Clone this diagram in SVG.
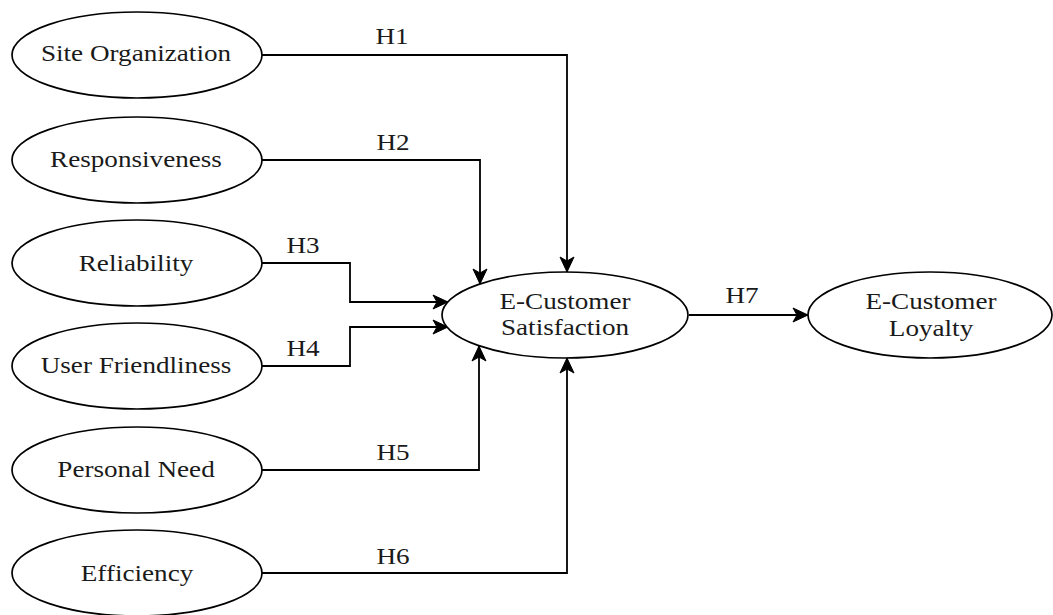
<svg xmlns="http://www.w3.org/2000/svg" width="1053" height="615" viewBox="0 0 1053 615">
  <style>
    .node ellipse { fill: #ffffff; stroke: #000000; stroke-width: 1.7; }
    text { font-family: 'Liberation Serif', 'Times New Roman', serif; font-size: 23px; fill: #1a1a1a; text-anchor: middle; }
    .edge { fill: none; stroke: #000000; stroke-width: 1.8; marker-end: url(#arrow); }
  </style>
  <defs>
    <marker id="arrow" markerUnits="userSpaceOnUse" markerWidth="18" markerHeight="16" viewBox="0 0 18 16" refX="16" refY="8" orient="auto">
      <path d="M16,8 L1,1 L5,8 L1,15 Z" fill="#000000" stroke="#000000" stroke-width="1"/>
    </marker>
  </defs>
  <rect width="1053" height="615" fill="#ffffff"/>

  <!-- connectors; labels use a slightly wide serif (scaled 1.18 horizontally) -->
  <g id="connectors">
    <path class="edge" d="M262,55 H567 V272"/>
    <path class="edge" d="M262,160 H480 V284"/>
    <path class="edge" d="M262,263 H350 V302 H448"/>
    <path class="edge" d="M262,366 H350 V327 H448"/>
    <path class="edge" d="M262,470 H479 V346"/>
    <path class="edge" d="M262,573 H567 V358"/>
    <path class="edge" d="M689,315 H808"/>
    <text transform="translate(392,44) scale(1.18,1)" font-family="Liberation Serif, serif">H1</text>
    <text transform="translate(393,150) scale(1.18,1)" font-family="Liberation Serif, serif">H2</text>
    <text transform="translate(303,253) scale(1.18,1)" font-family="Liberation Serif, serif">H3</text>
    <text transform="translate(303,356) scale(1.18,1)" font-family="Liberation Serif, serif">H4</text>
    <text transform="translate(393,460) scale(1.18,1)" font-family="Liberation Serif, serif">H5</text>
    <text transform="translate(393,564) scale(1.18,1)" font-family="Liberation Serif, serif">H6</text>
    <text transform="translate(742,303) scale(1.18,1)" font-family="Liberation Serif, serif">H7</text>
  </g>

  <!-- constructs -->
  <g id="site-organization" class="node">
    <ellipse cx="137" cy="55" rx="125" ry="43"/>
    <text transform="translate(136,61) scale(1.18,1)" font-family="Liberation Serif, serif">Site Organization</text>
  </g>
  <g id="responsiveness" class="node">
    <ellipse cx="137" cy="160" rx="125" ry="43"/>
    <text transform="translate(136,167) scale(1.18,1)" font-family="Liberation Serif, serif">Responsiveness</text>
  </g>
  <g id="reliability" class="node">
    <ellipse cx="137" cy="263" rx="125" ry="43"/>
    <text transform="translate(136,271) scale(1.18,1)" font-family="Liberation Serif, serif">Reliability</text>
  </g>
  <g id="user-friendliness" class="node">
    <ellipse cx="137" cy="366" rx="125" ry="43"/>
    <text transform="translate(136,373) scale(1.18,1)" font-family="Liberation Serif, serif">User Friendliness</text>
  </g>
  <g id="personal-need" class="node">
    <ellipse cx="137" cy="470" rx="125" ry="43"/>
    <text transform="translate(136,477) scale(1.18,1)" font-family="Liberation Serif, serif">Personal Need</text>
  </g>
  <g id="efficiency" class="node">
    <ellipse cx="137" cy="573" rx="125" ry="43"/>
    <text transform="translate(137,581) scale(1.18,1)" font-family="Liberation Serif, serif">Efficiency</text>
  </g>
  <g id="e-customer-satisfaction" class="node">
    <ellipse cx="565" cy="315" rx="123" ry="43"/>
    <text transform="translate(565,309) scale(1.18,1)" font-family="Liberation Serif, serif">E-Customer</text>
    <text transform="translate(565,335) scale(1.18,1)" font-family="Liberation Serif, serif">Satisfaction</text>
  </g>
  <g id="e-customer-loyalty" class="node">
    <ellipse cx="930" cy="315" rx="122" ry="43"/>
    <text transform="translate(931,309) scale(1.18,1)" font-family="Liberation Serif, serif">E-Customer</text>
    <text transform="translate(931,336) scale(1.18,1)" font-family="Liberation Serif, serif">Loyalty</text>
  </g>
</svg>
